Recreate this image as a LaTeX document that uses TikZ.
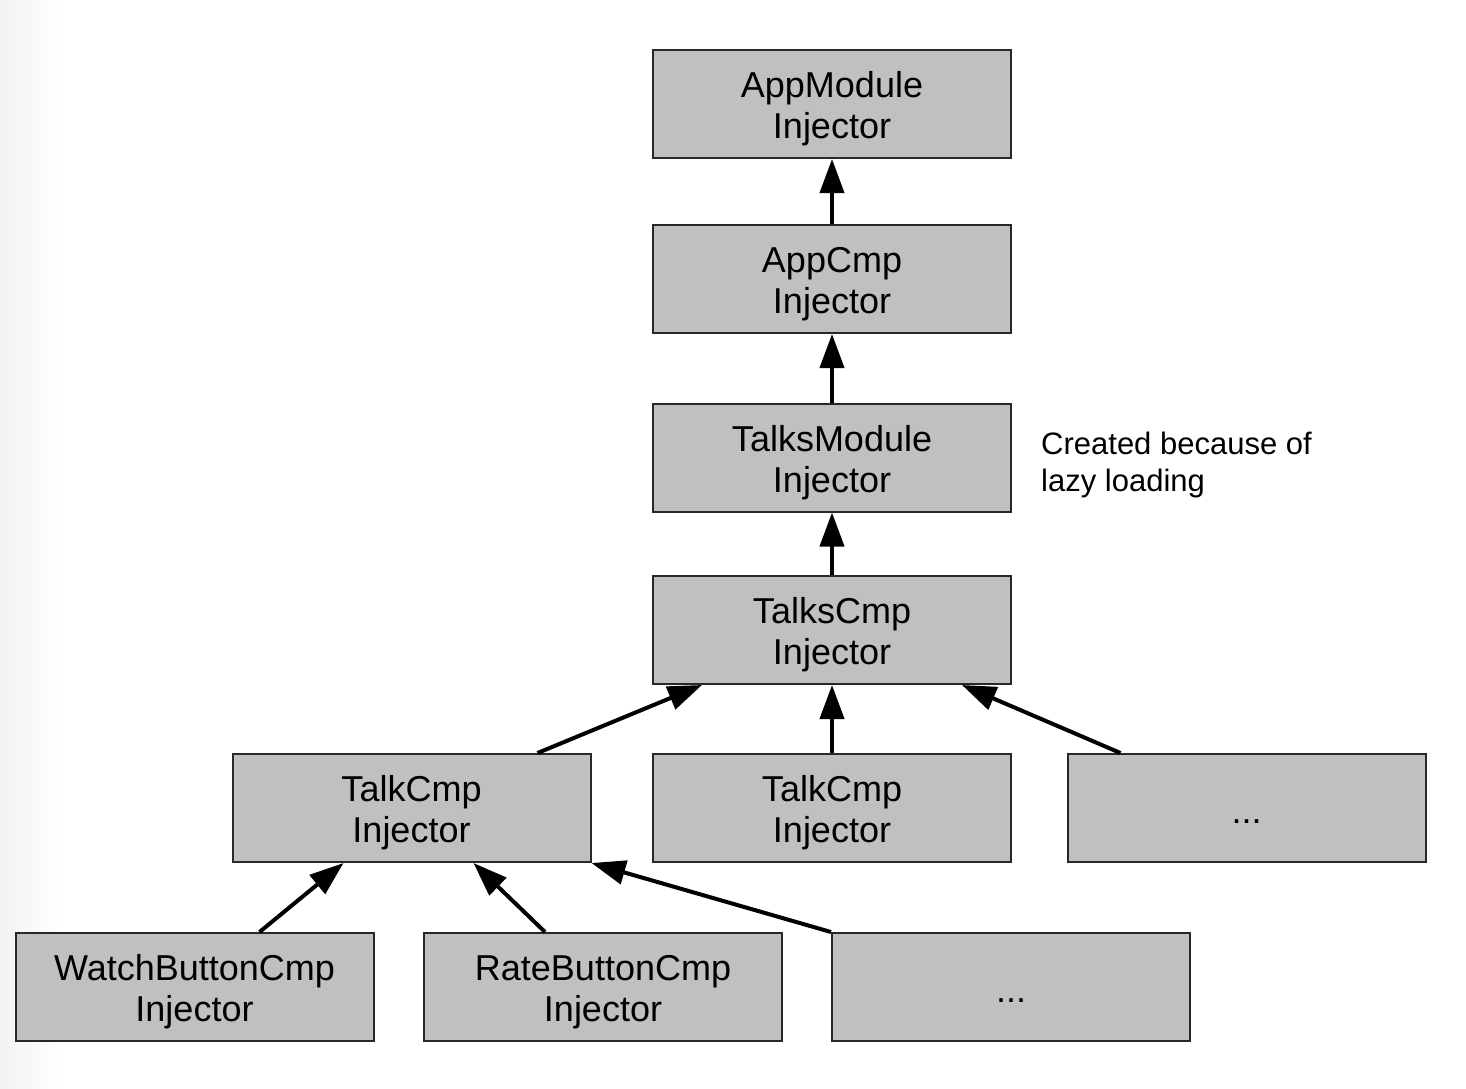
\documentclass[tikz,border=0pt]{standalone}
\usepackage{fontspec}
\setmainfont{Liberation Sans}
\usetikzlibrary{arrows.meta,calc}
\definecolor{boxgray}{RGB}{192,192,192}
\definecolor{edgegray}{RGB}{40,40,40}
\begin{document}
\begin{tikzpicture}[x=1pt,y=-1pt,
  box/.style={draw=edgegray,line width=2pt,fill=boxgray,minimum width=358pt,minimum height=108pt,inner sep=0pt,align=center,text height=77pt,font=\fontsize{36}{41}\selectfont},
  link/.style={line width=4pt,-{Triangle[length=34pt,width=24pt]}},
  note/.style={align=left,anchor=north west,inner sep=0pt,font=\fontsize{31}{37}\selectfont}]
\useasboundingbox (0,0) rectangle (1466,1088);
\shade[left color=black!5,right color=white] (0,0) rectangle (60,1088);
\node[box] (appmod) at (832,104) {AppModule\\Injector};
\node[box] (appcmp) at (832,279) {AppCmp\\Injector};
\node[box] (talksmod) at (832,457.5) {TalksModule\\Injector};
\node[box] (talkscmp) at (832,630) {TalksCmp\\Injector};
\node[box] (talkL) at (411.5,808) {TalkCmp\\Injector};
\node[box] (talkM) at (832,808) {TalkCmp\\Injector};
\node[box,text height=30pt] (dotsR) at (1246.5,808) {...};
\node[box] (watch) at (194.5,987) {WatchButtonCmp\\Injector};
\node[box] (rate) at (603,987) {RateButtonCmp\\Injector};
\node[box,text height=30pt] (dotsB) at (1011,987) {...};
\node[note] (lazy) at (1041,432) {Created because of\\lazy loading};
\draw[link] (appcmp.north) -- (appmod.south);
\draw[link] (talksmod.north) -- (appcmp.south);
\draw[link] (talkscmp.north) -- (talksmod.south);
\draw[link] ($(talkL.north)+(126,0)$) -- ($(talkscmp.south)+(-130,0)$);
\draw[link] (talkM.north) -- (talkscmp.south);
\draw[link] ($(dotsR.north)+(-126,0)$) -- ($(talkscmp.south)+(130,0)$);
\draw[link] ($(watch.north)+(65,0)$) -- ($(talkL.south)+(-68,0)$);
\draw[link] ($(rate.north)+(-58,0)$) -- ($(talkL.south)+(62,0)$);
\draw[link] (dotsB.north west) -- (talkL.south east);
\end{tikzpicture}
\end{document}
